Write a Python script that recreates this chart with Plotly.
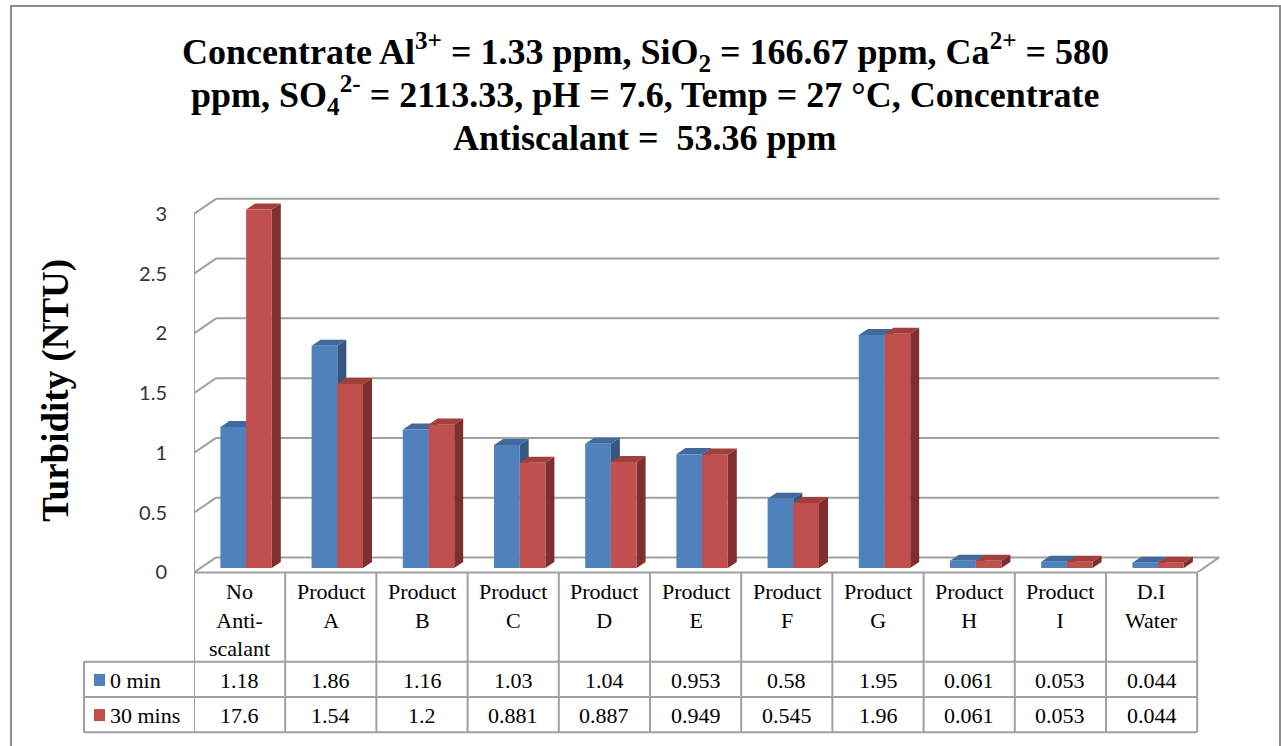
import plotly.graph_objects as go

# ---------------- data ----------------
categories = ["No<br>Anti-<br>scalant", "Product<br>A", "Product<br>B", "Product<br>C",
              "Product<br>D", "Product<br>E", "Product<br>F", "Product<br>G",
              "Product<br>H", "Product<br>I", "D.I<br>Water"]
series_names = ["0 min", "30 mins"]
t0_min = [1.18, 1.86, 1.16, 1.03, 1.04, 0.953, 0.58, 1.95, 0.061, 0.053, 0.044]
t30_min = [17.6, 1.54, 1.2, 0.881, 0.887, 0.949, 0.545, 1.96, 0.061, 0.053, 0.044]
y_ticks = [0, 0.5, 1, 1.5, 2, 2.5, 3]
y_tick_labels = ["0", "0.5", "1", "1.5", "2", "2.5", "3"]
y_max_value = 3

title_lines = [
    "<b>Concentrate Al<sup>3+</sup> = 1.33 ppm, SiO<sub>2</sub> = 166.67 ppm, Ca<sup>2+</sup> = 580</b>",
    "<b>ppm, SO<sub>4</sub><sup>2-</sup> = 2113.33, pH = 7.6, Temp = 27 °C, Concentrate</b>",
    "<b>Antiscalant =  53.36 ppm</b>",
]
y_title = "<b>Turbidity (NTU)</b>"

# ---------------- geometry / style ----------------
W, H = 1281, 746
VS = 0.981              # vertical compensation factor
X0, CW = 194, 91.2      # px of x=0, px per category
Y0, YU = 570, 119       # px of y=0 (front plane), px per unit
XMAX, YMAX = 11.4, 3.25
DDX, DDY = 22 / CW, 15 / YU          # wall depth
BOX, BOY = 6.5 / CW, 4.4 / YU        # bar front-plane offset
BW = 25.7 / CW                       # bar width
BDX, BDY = 9 / CW, 6 / YU            # bar depth

BLUE = ("#4F81BD", "#41699D", "#34587F")   # front, top, side
RED = ("#C0504D", "#A23F3C", "#7F302E")
GRID = "#A0A0A0"
SERIF = "Liberation Serif"


def px(x):
    return x / W


def py(y):
    return 1 - (y / VS) / H


n = len(categories)
x_pos = [i + 0.5 + BOX for i in range(n)]

fig = go.Figure()
shapes = []
annotations = []

# walls & gridlines
for k in y_ticks:
    shapes.append(dict(type="line", xref="x", yref="y", x0=DDX, y0=k + DDY, x1=n + DDX, y1=k + DDY,
                       line=dict(color=GRID, width=2), layer="below"))
    shapes.append(dict(type="line", xref="x", yref="y", x0=0, y0=k, x1=DDX, y1=k + DDY,
                       line=dict(color=GRID, width=2), layer="below"))
shapes.append(dict(type="line", xref="x", yref="y", x0=0, y0=0, x1=0, y1=y_ticks[-1],
                   line=dict(color=GRID, width=2), layer="below"))
shapes.append(dict(type="line", xref="x", yref="y", x0=n, y0=0, x1=n + DDX, y1=DDY,
                   line=dict(color=GRID, width=2), layer="below"))

# bars
for vals, name, off, cols in [(t0_min, series_names[0], -BW, BLUE), (t30_min, series_names[1], 0, RED)]:
    shown = [min(v, y_max_value) for v in vals]
    fig.add_trace(go.Bar(x=x_pos, y=shown, base=BOY, width=BW, offset=off, name=name,
                         marker=dict(color=cols[0], line=dict(width=0)), showlegend=False,
                         hoverinfo="skip"))
    for i, v in enumerate(shown):
        xl = x_pos[i] + off
        xr = xl + BW
        top = BOY + v
        bot = BOY
        shapes.append(dict(type="path", xref="x", yref="y", layer="below", line=dict(width=0),
                           fillcolor=cols[1],
                           path=f"M{xl},{top} L{xr},{top} L{xr + BDX},{top + BDY} L{xl + BDX},{top + BDY} Z"))
        shapes.append(dict(type="path", xref="x", yref="y", layer="below", line=dict(width=0),
                           fillcolor=cols[2],
                           path=f"M{xr},{bot} L{xr + BDX},{bot + BDY} L{xr + BDX},{top + BDY} L{xr},{top} Z"))

# data table
TB = dict(color=GRID, width=2)
row_tops = [570, 659, 694, 729]
shapes.append(dict(type="line", xref="x", yref="paper", x0=0, x1=n, y0=py(570), y1=py(570), line=TB))
for yy in row_tops[1:]:
    shapes.append(dict(type="line", xref="paper", yref="paper", x0=px(84), x1=px(X0 + n * CW),
                       y0=py(yy), y1=py(yy), line=TB))
for j in range(n + 1):
    shapes.append(dict(type="line", xref="x", yref="paper", x0=j, x1=j, y0=py(570), y1=py(row_tops[-1]), line=TB))
shapes.append(dict(type="line", xref="paper", yref="paper", x0=px(84), x1=px(84),
                   y0=py(row_tops[1]), y1=py(row_tops[-1]), line=TB))

for i, c in enumerate(categories):
    annotations.append(dict(xref="x", yref="paper", x=i + 0.5, y=py(575), text=c, showarrow=False,
                            xanchor="center", yanchor="top", align="center",
                            font=dict(family=SERIF, size=22, color="#000")))
for r, (vals, name, cols) in enumerate([(t0_min, series_names[0], BLUE), (t30_min, series_names[1], RED)]):
    yc = (row_tops[r + 1] + row_tops[r + 2]) / 2
    for i, v in enumerate(vals):
        annotations.append(dict(xref="x", yref="paper", x=i + 0.5, y=py(yc + 1), text=str(v), showarrow=False,
                                xanchor="center", yanchor="middle",
                                font=dict(family=SERIF, size=22, color="#000")))
    annotations.append(dict(xref="paper", yref="paper", x=px(108), y=py(yc + 1), text=name, showarrow=False,
                            xanchor="left", yanchor="middle",
                            font=dict(family=SERIF, size=22, color="#000")))
    shapes.append(dict(type="rect", xref="paper", yref="paper", x0=px(94), x1=px(105),
                       y0=py(yc - 5.5), y1=py(yc + 6.5), fillcolor=cols[0], line=dict(width=0)))

# titles
for t, yy in zip(title_lines, [52, 95, 137]):
    annotations.append(dict(xref="paper", yref="paper", x=px(645), y=py(yy), text=t, showarrow=False,
                            xanchor="center", yanchor="middle",
                            font=dict(family=SERIF, size=36, color="#000")))
annotations.append(dict(xref="paper", yref="paper", x=px(56), y=py(389), text=y_title, showarrow=False,
                        textangle=-90, xanchor="center", yanchor="middle",
                        font=dict(family=SERIF, size=37, color="#000")))

# outer border
shapes.append(dict(type="rect", xref="paper", yref="paper", x0=px(11), x1=px(1280), y0=py(6), y1=-0.1,
                   line=dict(color="#8C8C8C", width=2), fillcolor="rgba(0,0,0,0)", layer="below"))

fig.update_layout(
    width=W, height=H, autosize=False, margin=dict(l=0, r=0, t=0, b=0, pad=0),
    paper_bgcolor="white", plot_bgcolor="rgba(0,0,0,0)",
    barmode="overlay", showlegend=False,
    shapes=shapes, annotations=annotations,
    xaxis=dict(range=[0, XMAX], domain=[px(X0), px(X0 + XMAX * CW)], visible=False, fixedrange=True),
    yaxis=dict(range=[0, YMAX], domain=[py(Y0), py(Y0 - YMAX * YU)], showgrid=False, zeroline=False,
               showline=False, tickvals=y_ticks, ticktext=y_tick_labels, ticks="outside", ticklen=22,
               tickcolor="rgba(0,0,0,0)", tickfont=dict(family="Lato", size=20, color="#333"),
               fixedrange=True),
)

fig.write_html("out.html", config={"responsive": False})
